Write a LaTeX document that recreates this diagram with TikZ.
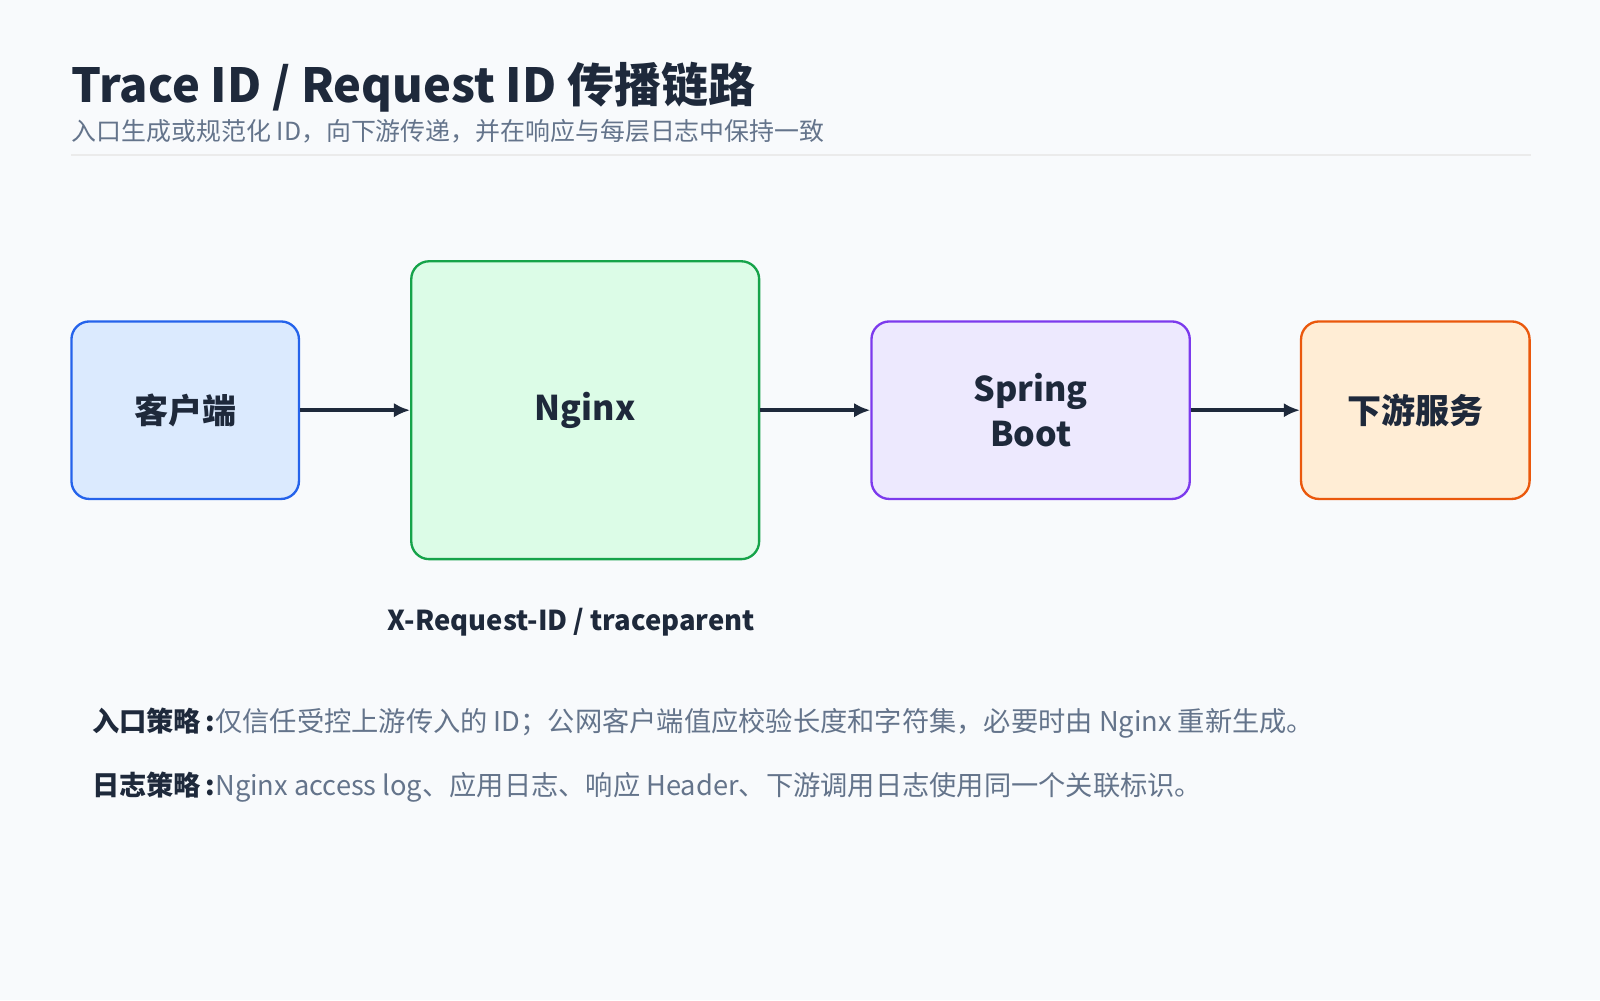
\documentclass[tikz,border=0pt]{standalone}
\usepackage{fontspec}
\setmainfont{Noto Sans CJK SC}
\usepackage{tikz}
\usetikzlibrary{arrows.meta}
\definecolor{bgc}{HTML}{F8FAFC}
\definecolor{ink}{HTML}{1E293B}
\definecolor{muted}{HTML}{64748B}
\definecolor{blueline}{HTML}{2563EB}
\definecolor{bluefill}{HTML}{DBEAFE}
\definecolor{greenline}{HTML}{16A34A}
\definecolor{greenfill}{HTML}{DCFCE7}
\definecolor{violetline}{HTML}{7C3AED}
\definecolor{violetfill}{HTML}{EDE9FE}
\definecolor{orangeline}{HTML}{EA580C}
\definecolor{orangefill}{HTML}{FFEDD5}
\tikzset{
  box/.style={draw, line width=1.3pt, rounded corners=10pt, inner sep=0pt,
    font=\fontsize{19}{25}\selectfont\bfseries, text=ink, align=center},
  flow/.style={line width=2.2pt, ink, -{Latex[length=9pt,width=8pt]}}
}
\begin{document}
\begin{tikzpicture}[x=0.02cm,y=-0.02cm]
	\fill [bgc] (0,0) rectangle (1568,980);
	\useasboundingbox (0,0) rectangle (1568,980);

	\node [anchor=base west, text=ink, font=\fontsize{26.2}{32}\selectfont\bfseries, inner sep=0pt] (title) at (70,100) {Trace ID / Request ID 传播链路};
	\node [anchor=base west, text=muted, font=\fontsize{13.9}{16}\selectfont, inner sep=0pt] (sub) at (70,138) {入口生成或规范化 ID，向下游传递，并在响应与每层日志中保持一致};
	\draw [line width=1.5pt, black!8] (70,152) -- (1500,152);

	\node [box, draw=blueline, fill=bluefill, minimum width=4.46cm, minimum height=3.48cm] (client) at (181.5,402) {客户端};
	\node [box, draw=greenline, fill=greenfill, minimum width=6.82cm, minimum height=5.84cm] (nginx) at (573.5,402) {Nginx};
	\node [box, draw=violetline, fill=violetfill, minimum width=6.24cm, minimum height=3.48cm] (spring) at (1010,402) {Spring\\Boot};
	\node [box, draw=orangeline, fill=orangefill, minimum width=4.48cm, minimum height=3.48cm] (down) at (1387,402) {下游服务};

	\draw [flow] (client) -- (nginx);
	\draw [flow] (nginx) -- (spring);
	\draw [flow] (spring) -- (down);

	\node [text=ink, font=\fontsize{15.3}{18}\selectfont\bfseries] (hdr) at (560,610) {X-Request-ID / traceparent};

	\node [anchor=base west, inner sep=0pt, font=\fontsize{15.2}{18}\selectfont] (in) at (90,717) {\textbf{\color{ink}入口策略\,:}\color{muted}仅信任受控上游传入的 ID；公网客户端值应校验长度和字符集，必要时由 Nginx 重新生成。};
	\node [anchor=base west, inner sep=0pt, font=\fontsize{15.2}{18}\selectfont] (log) at (90,780) {\textbf{\color{ink}日志策略\,:}\color{muted}Nginx access log、应用日志、响应 Header、下游调用日志使用同一个关联标识。};
\end{tikzpicture}
\end{document}
